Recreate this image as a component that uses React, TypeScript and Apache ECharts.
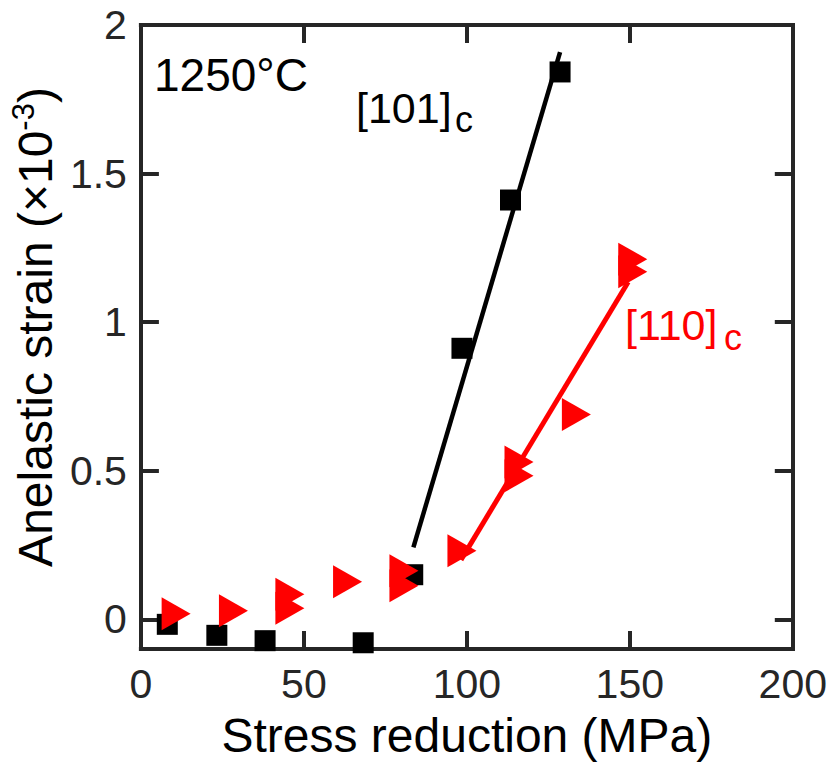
import React, { useEffect, useRef } from "react";
import * as echarts from "echarts";

// Anelastic strain after stress reduction at 1250°C, two loading orientations
const stress101 = [8.1, 23.3, 38.1, 68.2, 83.4, 98.5, 113.4, 128.6];
const strain101 = [-0.017, -0.054, -0.072, -0.079, 0.15, 0.912, 1.411, 1.842];

const stress110 = [10.8, 28.4, 45.7, 45.7, 63.4, 80.7, 80.7, 98.5, 116.0, 116.0, 133.6, 150.9, 150.9];
const strain110 = [0.019, 0.029, 0.084, 0.037, 0.126, 0.163, 0.113, 0.231, 0.529, 0.483, 0.689, 1.212, 1.17];

// Linear fits above the threshold stress
const fit101Stress = [83.6, 128.6];
const fit101Strain = [0.242, 1.909];
const fit110Stress = [98.2, 149.5];
const fit110Strain = [0.2, 1.135];

const xTicks = [0, 50, 100, 150, 200];
const yTicks = [0, 0.5, 1, 1.5, 2];

const AXIS_COLOR = "#262626";
const FONT = "'Liberation Sans', Arial, sans-serif";

const pairs = (xs: number[], ys: number[]) => xs.map((x, i) => [x, ys[i]]);

const label = (text: string, x: number, y: number, size: number, fill: string) => ({
  type: "text",
  x,
  y,
  style: { text, fontSize: size, fontFamily: FONT, fill, align: "left", verticalAlign: "middle" },
});

export default function App() {
  const ref = useRef<HTMLDivElement>(null);

  useEffect(() => {
    if (!ref.current) return;
    const chart = echarts.init(ref.current, undefined, { renderer: "svg" });

    const axisLine = { show: true, onZero: false, lineStyle: { color: AXIS_COLOR, width: 4, cap: "square" } };
    const axisTick = { show: true, inside: true, length: 18, lineStyle: { color: AXIS_COLOR, width: 4 } };

    const xBase = {
      type: "value",
      min: xTicks[0],
      max: xTicks[xTicks.length - 1],
      interval: 50,
      splitLine: { show: false },
      axisLine,
      axisTick,
    };
    const yBase = {
      type: "value",
      min: -0.1,
      max: 2,
      splitLine: { show: false },
      axisLine,
      axisTick: { ...axisTick, customValues: yTicks },
    };

    chart.setOption({
      animation: false,
      backgroundColor: "#ffffff",
      grid: { left: 137, right: 35, top: 25, bottom: 116, containLabel: false },
      xAxis: [
        {
          ...xBase,
          position: "bottom",
          axisLabel: { fontSize: 41, fontFamily: FONT, color: AXIS_COLOR, margin: 14 },
          name: "Stress reduction (MPa)",
          nameLocation: "middle",
          nameGap: 62,
          nameTextStyle: { fontSize: 48, fontFamily: FONT, color: "#000" },
        },
        { ...xBase, position: "top", axisLabel: { show: false } },
      ],
      yAxis: [
        {
          ...yBase,
          position: "left",
          axisLabel: {
            customValues: yTicks,
            fontSize: 41,
            fontFamily: FONT,
            color: AXIS_COLOR,
            margin: 14,
            formatter: (v: number) => String(v),
          },
          name: "{m|Anelastic strain (×10}{s|-3}{m|)}",
          nameLocation: "middle",
          nameGap: 78,
          nameRotate: 90,
          nameTextStyle: {
            padding: [0, 0, 0, 20],
            rich: {
              m: { fontSize: 48, fontFamily: FONT, color: "#000", lineHeight: 54 },
              s: { fontSize: 31, fontFamily: FONT, color: "#000", lineHeight: 20, verticalAlign: "top" },
            },
          },
        },
        { ...yBase, position: "right", axisLabel: { show: false } },
      ],
      series: [
        {
          type: "scatter",
          data: pairs(stress101, strain101),
          symbol: "rect",
          symbolSize: 21,
          itemStyle: { color: "#000000", opacity: 1 },
          z: 2,
        },
        {
          type: "line",
          data: pairs(fit101Stress, fit101Strain),
          showSymbol: false,
          lineStyle: { color: "#000000", width: 4.5 },
          z: 3,
        },
        {
          type: "line",
          data: pairs(fit110Stress, fit110Strain),
          showSymbol: false,
          lineStyle: { color: "#ff0000", width: 5 },
          z: 3,
        },
        {
          type: "scatter",
          data: pairs(stress110, strain110),
          symbol: "triangle",
          symbolSize: [33, 29],
          symbolRotate: -90,
          itemStyle: { color: "#ff0000", opacity: 1 },
          z: 4,
        },
      ],
      graphic: [
        label("1250°C", 154, 75, 46, "#000"),
        label("[101]", 356, 108, 43, "#000"),
        label("c", 455, 119, 36, "#000"),
        label("[110]", 625, 325, 43, "#ff0000"),
        label("c", 724, 337, 36, "#ff0000"),
      ],
    });

    return () => chart.dispose();
  }, []);

  return (
    <div
      ref={ref}
      style={{ position: "fixed", left: 0, top: 0, width: 830, height: 765, background: "#fff" }}
    />
  );
}
